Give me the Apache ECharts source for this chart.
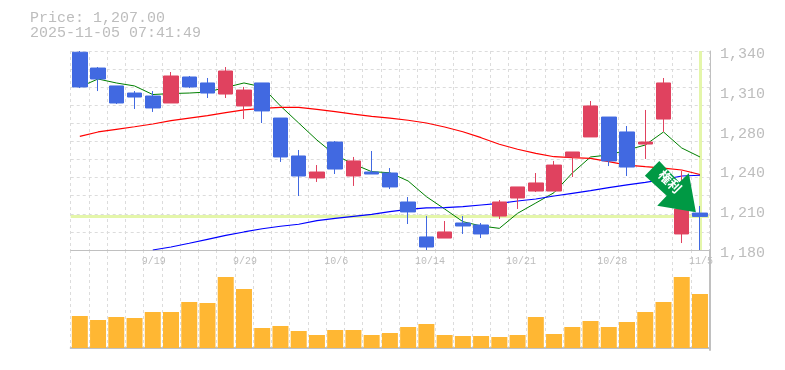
<!DOCTYPE html>
<html>
<head>
<meta charset="utf-8">
<style>html,body{margin:0;padding:0;background:#fff}#c{width:785px;height:370px}</style>
<script src="https://cdn.jsdelivr.net/npm/echarts@6/dist/echarts.min.js"></script>
</head>
<body>
<div id="c"></div>
<script>
const priceText = 'Price: 1,207.00';
const timeText = '2025-11-05 07:41:49';
const currentPrice = 1207;
const arrowText = '権利';
const dates = ['9/12','9/16','9/17','9/18','9/19','9/22','9/24','9/25','9/26','9/29','9/30','10/1','10/2','10/3','10/6','10/7','10/8','10/9','10/10','10/14','10/15','10/16','10/17','10/20','10/21','10/22','10/23','10/24','10/27','10/28','10/29','10/30','10/31','11/4','11/5'];
const shownDates = ['9/19','9/29','10/6','10/14','10/21','10/28','11/5'];
const priceTicks = [1180,1212,1244,1276,1308,1340];
const open  = [1339,1326.3,1311.9,1306.2,1303.8,1298.2,1319.1,1314.3,1305.4,1295.8,1314.3,1286.1,1255.6,1237.9,1266.8,1239.5,1242.7,1241.9,1218.6,1190.5,1189.6,1201.7,1200.1,1207.3,1221.8,1227.4,1227.4,1254.8,1270.9,1286.9,1274.9,1265.2,1285.3,1192.9,1209.7];
const close = [1311.1,1317.5,1298.2,1303,1294.2,1319.9,1311.1,1306.2,1323.9,1308.6,1291.8,1254.8,1239.5,1242.7,1245.1,1251.6,1241.1,1230.7,1210.6,1182.4,1194.5,1199.3,1192.9,1218.6,1230.7,1233.9,1248.3,1258.8,1295.8,1251.6,1246.7,1266.8,1314.3,1213,1207];
const low   = [1310.2,1307.8,1297.4,1293.4,1291,1298.2,1310.2,1302.2,1302.2,1285.3,1282.1,1250.8,1223.4,1234.7,1241.1,1231.5,1241.1,1229,1200.9,1180,1189.6,1192.9,1189.6,1204.9,1213,1226.6,1227.4,1238.7,1270.9,1247.5,1239.5,1253.2,1274.9,1185.6,1180];
const high  = [1340,1327.1,1311.9,1307.8,1307.8,1323.1,1319.9,1318.3,1327.1,1311.1,1314.3,1286.1,1260.4,1248.3,1267.6,1254.8,1259.6,1245.9,1222.6,1207.3,1203.3,1207.3,1201.7,1220.2,1230.7,1241.9,1251.6,1258.8,1299.8,1286.9,1279.7,1292.6,1318.3,1243.5,1215.4];
const maShort = [1311.1,1317.5,1314.3,1311.9,1305,1305.8,1306.2,1307,1310.7,1314.3,1311.1,1295.8,1282.1,1268.4,1256.4,1249.1,1243,1242.1,1235.5,1222.9,1213,1202.8,1199.3,1197.4,1209.5,1217.8,1226.1,1241.9,1254.8,1256.4,1260.4,1264.4,1274.9,1262,1254.8];
const maMid = [1271.4,1274.9,1277,1279.1,1281.3,1284,1286.1,1288,1290.4,1292.6,1293.9,1294.7,1294.7,1293.1,1291.2,1289.3,1287.5,1286.1,1284.3,1282.1,1278.9,1275.1,1270.3,1265,1261,1257.7,1255,1254.2,1253.7,1251,1248.3,1247,1245.9,1244.3,1240.7];
const maLong = [null,null,null,null,1180,1182.4,1185.4,1188.6,1191.8,1194.5,1197.1,1199.1,1200.7,1203.6,1205.5,1207.1,1208.7,1210.8,1212.6,1213.8,1214,1214.8,1216.2,1217.5,1219.4,1221,1223.4,1225.6,1227.7,1230.1,1232.3,1234.4,1236.7,1239.5,1240.1];
const volume = [96,84,93,90,108,108,138,135,213,177,60,66,51,39,54,54,39,45,63,72,39,36,36,33,39,93,42,63,81,63,78,108,138,213,162];

const grey = '#c0c0c0', gridCol = '#dcdcdc', hi = '#e4f6aa';
const mono = '"Liberation Mono", monospace';
const candles = dates.map((d, i) => [open[i], close[i], low[i], high[i]]);
const vSplit = {show:true, interval:0, lineStyle:{color:gridCol, type:[3,3], width:1}};

const chart = echarts.init(document.getElementById('c'), null, {renderer:'canvas'});
chart.setOption({
  animation:false,
  backgroundColor:'#fff',
  title:{text:priceText + '\n' + timeText, left:30, top:11, padding:0,
    textStyle:{fontFamily:mono, fontSize:15, lineHeight:15, fontWeight:'normal', color:'#bdbdbd'}},
  grid:[
    {left:70.7, width:638.4, top:51, height:199},
    {left:70.7, width:638.4, top:250, height:100}
  ],
  xAxis:[
    {type:'category', gridIndex:0, data:dates, boundaryGap:true,
      axisLine:{show:true, lineStyle:{color:grey, width:1}}, axisTick:{show:false}, splitLine:vSplit,
      axisLabel:{show:true, interval:0, margin:6, fontFamily:mono, fontSize:10, color:'#bdbdbd',
        formatter:v => shownDates.includes(v) ? (v.length > 4 ? '{w|' + v + '}' : '{n|' + v + '}') : '',
        rich:{w:{padding:[0,0,0,7], fontFamily:mono, fontSize:10, color:'#bdbdbd'},
              n:{padding:[0,0,0,2], fontFamily:mono, fontSize:10, color:'#bdbdbd'}}}},
    {type:'category', gridIndex:1, data:dates, boundaryGap:true,
      axisLine:{show:true, lineStyle:{color:grey, width:2}}, axisTick:{show:false}, axisLabel:{show:false}, splitLine:vSplit}
  ],
  yAxis:[
    {type:'value', gridIndex:0, position:'right', offset:1, min:1180, max:1340,
      axisLine:{show:true, onZero:false, lineStyle:{color:grey, width:1}}, axisTick:{show:false, customValues:priceTicks}, splitLine:{show:false},
      axisLabel:{show:true, customValues:priceTicks, margin:10, verticalAlign:'top', lineHeight:6, fontFamily:mono, fontSize:15, color:'#bdbdbd',
        formatter:v => (Math.round(v/10)*10).toLocaleString('en-US')}},
    {type:'value', gridIndex:0, position:'left', min:0, max:11, interval:1,
      axisLine:{show:false}, axisTick:{show:false}, axisLabel:{show:false},
      splitLine:{show:true, lineStyle:{color:gridCol, type:[3,3], width:1}}},
    {type:'value', gridIndex:1, position:'right', offset:1, min:-6, max:294,
      axisLine:{show:true, onZero:false, lineStyle:{color:grey, width:2}}, axisTick:{show:false}, axisLabel:{show:false}, splitLine:{show:false}}
  ],
  series:[
    {name:'current', type:'line', xAxisIndex:0, yAxisIndex:0, data:[], z:1, silent:true,
      markLine:{z:1, silent:true, symbol:'none', label:{show:false}, animation:false,
        lineStyle:{color:hi, width:3, type:'solid'},
        data:[{yAxis:currentPrice},{xAxis:dates[dates.length-1]}]}},
    {name:'ohlc', type:'candlestick', xAxisIndex:0, yAxisIndex:0, data:candles, barWidth:15, z:3,
      itemStyle:{color:'#e0425f', color0:'#4169e1', borderColor:'#e0425f', borderColor0:'#4169e1', borderWidth:1}},
    {name:'maShort', type:'line', xAxisIndex:0, yAxisIndex:0, data:maShort, showSymbol:false, z:2, lineStyle:{color:'#008000', width:1}},
    {name:'maMid', type:'line', xAxisIndex:0, yAxisIndex:0, data:maMid, showSymbol:false, z:2, lineStyle:{color:'#ff0000', width:1.2}},
    {name:'maLong', type:'line', xAxisIndex:0, yAxisIndex:0, data:maLong, showSymbol:false, z:2, lineStyle:{color:'#0000ff', width:1.2}},
    {name:'volume', type:'bar', xAxisIndex:1, yAxisIndex:2, data:volume, barWidth:16, itemStyle:{color:'#ffb733'}},
    {name:'arrow', type:'line', xAxisIndex:0, yAxisIndex:0, data:[], z:6,
      markPoint:{z:6, silent:true, animation:false,
        data:[{coord:[dates.length-1, currentPrice],
          symbol:'path://M0 14.7L14.3 0L34.3 21.3L43.7 12.3L50.7 51.3L12.3 44.7L21.7 34.7Z',
          symbolSize:[51,51.3], symbolKeepAspect:false, symbolOffset:[-29.6,-29.7],
          itemStyle:{color:'#009944'},
          label:{show:true, position:'inside', formatter:arrowText, rotate:-45, offset:[-4,-3.5],
            color:'#fff', fontWeight:'bold', fontSize:13, fontFamily:'"Noto Sans CJK JP"'}}]}}
  ]
});
</script>
</body>
</html>
